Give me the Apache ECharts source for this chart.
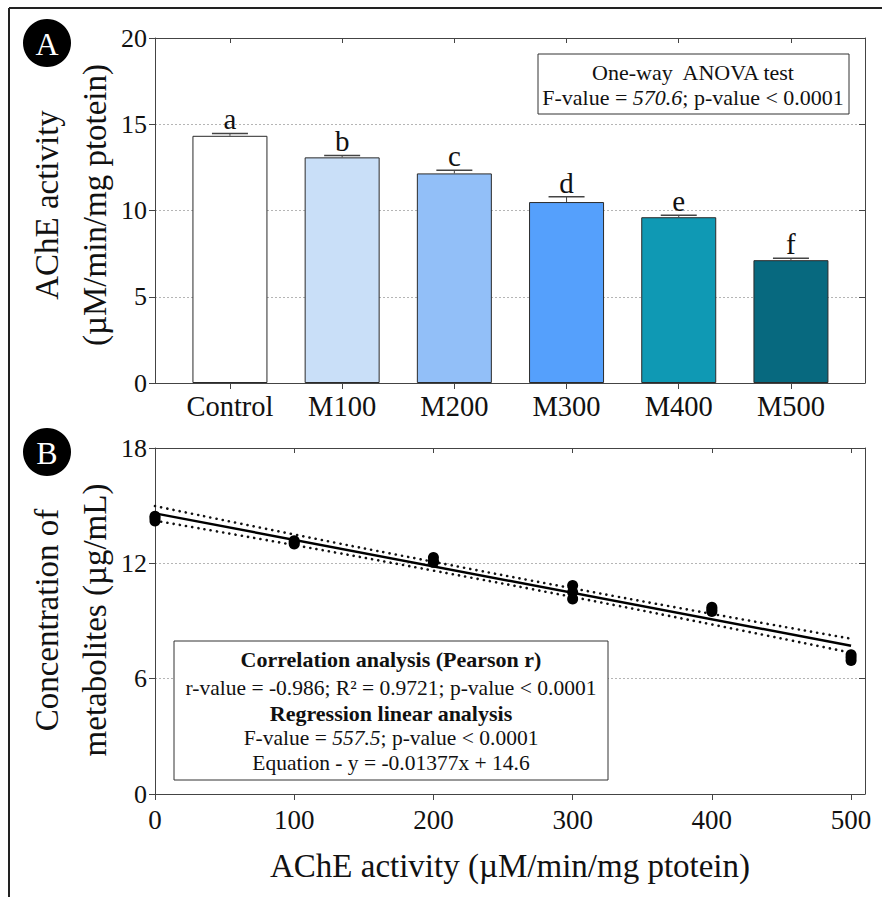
<!DOCTYPE html>
<html><head><meta charset="utf-8">
<script src="https://cdn.jsdelivr.net/npm/echarts@6/dist/echarts.min.js"></script>
<style>html,body{margin:0;padding:0;background:#fff}#c{width:882px;height:897px}</style>
</head><body><div id="c"></div>
<script>
// ---- Panel A data ----
const categories = ['Control', 'M100', 'M200', 'M300', 'M400', 'M500'];
const activityMean = [14.33, 13.08, 12.15, 10.49, 9.61, 7.12];
const activitySE = [0.14, 0.11, 0.19, 0.31, 0.11, 0.11];
const groupLetters = ['a', 'b', 'c', 'd', 'e', 'f'];
const barColors = ['#FFFFFF', '#C9DFF8', '#92BFF8', '#55A0FC', '#0F99B4', '#07697F'];
const categoryPositions = [0, 1, 2, 3, 4, 5];

// ---- Panel B data ----
const doseX = [0, 100, 200, 300, 400, 500];
const replicates = [
  [14.2, 14.35, 14.45],
  [13.0, 13.08, 13.18],
  [12.05, 12.1, 12.3],
  [10.15, 10.5, 10.85],
  [9.5, 9.6, 9.72],
  [6.95, 7.1, 7.25]
];
const regressionX = [0, 500];
const regressionY = [14.6, 7.71];
const bandUpper = [14.98, 13.50, 12.08, 10.70, 9.37, 8.08];
const bandLower = [14.22, 12.95, 11.62, 10.25, 8.82, 7.35];
const xTicksB = [0, 100, 200, 300, 400, 500];

const SERIF = 'Liberation Serif, serif';
const AX = '#444';

const chart = echarts.init(document.getElementById('c'), null, {renderer: 'svg'});

const barData = activityMean.map((v, i) => ({value: [categoryPositions[i], v], itemStyle: {color: barColors[i]}}));
const errData = activityMean.map((v, i) => [categoryPositions[i], v, activitySE[i]]);
const scatterData = [];
replicates.forEach((arr, i) => arr.forEach(v => scatterData.push([doseX[i], v])));

function axisCommon(extra) {
  return Object.assign({
    axisLine: {show: true, onZero: false, lineStyle: {color: AX, width: 1}},
    splitLine: {show: false}
  }, extra);
}
function txt(x, y, text, size, extra, weight) {
  return Object.assign({type: 'text', x: x, y: y, style: {text: text, fontSize: size, fontFamily: SERIF,
    fontWeight: weight || 'normal', fill: '#111', align: 'center', verticalAlign: 'middle'}}, extra || {});
}
function richTxt(x, y, pre, ital, post, size) {
  return {type: 'text', z: 51, x: x, y: y, style: {text: '{n|' + pre + '}{i|' + ital + '}{n|' + post + '}',
    align: 'center', verticalAlign: 'middle',
    rich: {n: {fontSize: size, fontFamily: SERIF, fill: '#111'},
           i: {fontSize: size, fontFamily: SERIF, fontStyle: 'italic', fill: '#111'}}}};
}

const option = {
  backgroundColor: '#fff',
  animation: false,
  grid: [
    {left: 155, top: 38, width: 710, height: 345},
    {left: 155, top: 448, width: 710, height: 346}
  ],
  xAxis: [
    axisCommon({gridIndex: 0, type: 'value', min: -0.668, max: 5.66, position: 'bottom',
      axisTick: {show: true, inside: false, length: 6, lineStyle: {color: AX}, customValues: categoryPositions},
      axisLabel: {show: true, customValues: categoryPositions, margin: 9, fontSize: 28.5, fontFamily: SERIF, color: '#111',
        formatter: v => categories[Math.round(v)]}}),
    axisCommon({gridIndex: 0, type: 'value', min: -0.668, max: 5.66, position: 'top',
      axisTick: {show: true, inside: true, length: 5, lineStyle: {color: AX}, customValues: categoryPositions},
      axisLabel: {show: false}}),
    axisCommon({gridIndex: 1, type: 'value', min: 0, max: 510, position: 'bottom',
      axisTick: {show: true, inside: false, length: 6, lineStyle: {color: AX}, customValues: xTicksB},
      axisLabel: {show: true, customValues: xTicksB, margin: 12, fontSize: 27, fontFamily: SERIF, color: '#111'}}),
    axisCommon({gridIndex: 1, type: 'value', min: 0, max: 510, position: 'top',
      axisTick: {show: true, inside: true, length: 5, lineStyle: {color: AX}, customValues: xTicksB},
      axisLabel: {show: false}})
  ],
  yAxis: [
    axisCommon({gridIndex: 0, type: 'value', min: 0, max: 20, interval: 5, position: 'left',
      axisTick: {show: true, inside: false, length: 6, lineStyle: {color: AX}},
      axisLabel: {margin: 8, fontSize: 26, fontFamily: SERIF, color: '#111'},
      splitLine: {show: true, lineStyle: {color: '#b5b5b5', type: [2, 2], width: 1}}}),
    axisCommon({gridIndex: 0, type: 'value', min: 0, max: 20, interval: 5, position: 'right',
      axisTick: {show: true, inside: true, length: 6, lineStyle: {color: AX}},
      axisLabel: {show: false}}),
    axisCommon({gridIndex: 1, type: 'value', min: 0, max: 18, interval: 6, position: 'left',
      axisTick: {show: true, inside: false, length: 6, lineStyle: {color: AX}},
      axisLabel: {margin: 8, fontSize: 26, fontFamily: SERIF, color: '#111'},
      splitLine: {show: true, lineStyle: {color: '#b5b5b5', type: [2, 2], width: 1}}}),
    axisCommon({gridIndex: 1, type: 'value', min: 0, max: 18, interval: 6, position: 'right',
      axisTick: {show: true, inside: true, length: 6, lineStyle: {color: AX}},
      axisLabel: {show: false}})
  ],
  series: [
    {type: 'bar', xAxisIndex: 0, yAxisIndex: 0, barWidth: 75, data: barData,
      itemStyle: {borderColor: '#2a2a2a', borderWidth: 1}, z: 2},
    {type: 'custom', xAxisIndex: 0, yAxisIndex: 0, data: errData, z: 3,
      renderItem: function (params, api) {
        const x = api.value(0), m = api.value(1), e = api.value(2);
        const base = api.coord([x, m]);
        const top = api.coord([x, m + e]);
        return {type: 'group', children: [
          {type: 'line', shape: {x1: base[0], y1: base[1], x2: top[0], y2: top[1]}, style: {stroke: '#444', lineWidth: 1}},
          {type: 'line', shape: {x1: top[0] - 18, y1: top[1], x2: top[0] + 18, y2: top[1]}, style: {stroke: '#444', lineWidth: 1.5}},
          {type: 'text', x: top[0], y: top[1] - 14, style: {text: groupLetters[params.dataIndex],
            fontSize: 29, fontFamily: SERIF, fill: '#111', align: 'center', verticalAlign: 'middle'}}
        ]};
      }},
    {type: 'line', xAxisIndex: 2, yAxisIndex: 2, data: doseX.map((x, i) => [x, bandUpper[i]]), smooth: true,
      symbol: 'none', lineStyle: {color: '#111', width: 2.6, type: [0.1, 6.2], cap: 'round'}, z: 3},
    {type: 'line', xAxisIndex: 2, yAxisIndex: 2, data: doseX.map((x, i) => [x, bandLower[i]]), smooth: true,
      symbol: 'none', lineStyle: {color: '#111', width: 2.6, type: [0.1, 6.2], cap: 'round'}, z: 3},
    {type: 'line', xAxisIndex: 2, yAxisIndex: 2, data: regressionX.map((x, i) => [x, regressionY[i]]),
      symbol: 'none', lineStyle: {color: '#000', width: 2.5}, z: 4},
    {type: 'scatter', xAxisIndex: 2, yAxisIndex: 2, data: scatterData, symbol: 'circle', symbolSize: 11,
      itemStyle: {color: '#000', opacity: 1}, z: 5}
  ],
  graphic: [
    // outer frame
    {type: 'line', shape: {x1: 9, y1: 8, x2: 882, y2: 8}, style: {stroke: '#222', lineWidth: 2}},
    {type: 'line', shape: {x1: 9, y1: 8, x2: 9, y2: 897}, style: {stroke: '#222', lineWidth: 2}},
    // badges
    {type: 'circle', shape: {cx: 47, cy: 43, r: 24}, style: {fill: '#000'}},
    {type: 'text', x: 47, y: 44, style: {text: 'A', fontSize: 32, fontFamily: SERIF, fill: '#fff', align: 'center', verticalAlign: 'middle'}},
    {type: 'circle', shape: {cx: 47, cy: 452, r: 24}, style: {fill: '#000'}},
    {type: 'text', x: 47, y: 453, style: {text: 'B', fontSize: 32, fontFamily: SERIF, fill: '#fff', align: 'center', verticalAlign: 'middle'}},
    // y titles panel A
    txt(47, 205, 'AChE activity', 33, {rotation: Math.PI / 2}),
    txt(95, 205, '(µM/min/mg ptotein)', 33, {rotation: Math.PI / 2}),
    // y titles panel B
    txt(47, 620, 'Concentration of', 33, {rotation: Math.PI / 2}),
    txt(95, 620, 'metabolites (µg/mL)', 33, {rotation: Math.PI / 2}),
    // x title panel B
    txt(510, 866, 'AChE activity (µM/min/mg ptotein)', 33),
    // ANOVA box
    {type: 'rect', z: 50, shape: {x: 538, y: 54, width: 311, height: 60}, style: {fill: '#fff', stroke: '#333', lineWidth: 1}},
    txt(693, 72, 'One-way  ANOVA test', 22, {z: 51}),
    richTxt(693, 97, 'F-value = ', '570.6', '; p-value < 0.0001', 22),
    // correlation box
    {type: 'rect', z: 50, shape: {x: 174, y: 641, width: 434, height: 139}, style: {fill: '#fff', stroke: '#333', lineWidth: 1}},
    txt(391, 659, 'Correlation analysis (Pearson r)', 22, {z: 51}, 'bold'),
    txt(391, 688, 'r-value = -0.986; R² = 0.9721; p-value < 0.0001', 21.5, {z: 51}),
    txt(391, 713, 'Regression linear analysis', 22, {z: 51}, 'bold'),
    richTxt(391, 738, 'F-value = ', '557.5', '; p-value < 0.0001', 21.5),
    txt(391, 763, 'Equation - y = -0.01377x + 14.6', 21.5, {z: 51})
  ]
};
chart.setOption(option);
</script>
</body></html>
